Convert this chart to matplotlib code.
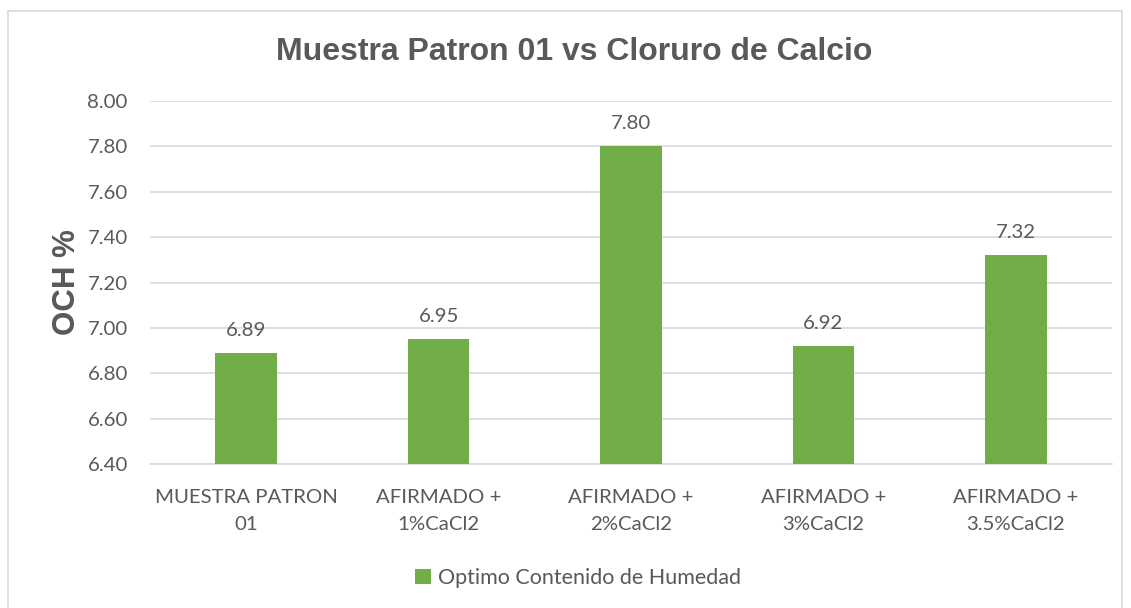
import numpy as np
import matplotlib
matplotlib.use("Agg")
import matplotlib.pyplot as plt
from matplotlib.patches import Rectangle

categories = ["MUESTRA PATRON\n01", "AFIRMADO +\n1%CaCl2", "AFIRMADO +\n2%CaCl2",
              "AFIRMADO +\n3%CaCl2", "AFIRMADO +\n3.5%CaCl2"]
och_values = [6.89, 6.95, 7.80, 6.92, 7.32]
series_name = "Optimo Contenido de Humedad"
yticks = [6.40, 6.60, 6.80, 7.00, 7.20, 7.40, 7.60, 7.80, 8.00]

green = "#70AD47"
text_gray = "#595959"
grid_gray = "#D9D9D9"

fig = plt.figure(figsize=(11.31, 6.08), dpi=100)
W, H = 1131, 608

# outer chart border
fig.patches.append(Rectangle((8 / W, -0.01), (1122 - 8) / W, 1 - 11 / H + 0.01,
                             transform=fig.transFigure, fill=False,
                             edgecolor=grid_gray, linewidth=1.2))

ax = fig.add_axes([150 / W, 1 - 464 / H, (1112 - 150) / W, (464 - 101) / H])
x = np.arange(len(categories))
bars = ax.bar(x, och_values, width=0.32, color=green, label=series_name, zorder=3)

ax.set_ylim(6.40, 8.00)
ax.set_xlim(-0.5, len(categories) - 0.5)
ax.set_yticks(yticks)
ax.set_yticklabels([f"{v:.2f}" for v in yticks])
ax.set_xticks(x)
ax.set_xticklabels(categories)
ax.yaxis.grid(True, color=grid_gray, linewidth=1.2, zorder=0)
for s in ax.spines.values():
    s.set_visible(False)
ax.spines["bottom"].set_visible(True)
ax.spines["bottom"].set_color(grid_gray)
ax.spines["bottom"].set_linewidth(1.2)
ax.tick_params(length=0, labelsize=14.7, labelcolor=text_gray, pad=16)
ax.tick_params(axis="x", pad=18)
for lab in ax.get_xticklabels() + ax.get_yticklabels():
    lab.set_family("Lato")
    lab.set_linespacing(1.75)

for xi, v in zip(x, och_values):
    ax.annotate(f"{v:.2f}", (xi, v), xytext=(0, 10), textcoords="offset points",
                ha="center", va="bottom", fontsize=14.7, color=text_gray, family="Lato")

ax.set_ylabel("OCH %", fontsize=22.5, fontweight="bold", color=text_gray,
              family="Liberation Sans", labelpad=4)

fig.text(0.5 * (276 + 873) / W, 1 - 52 / H, "Muestra Patron 01 vs Cloruro de Calcio",
         ha="center", va="center", fontsize=23, fontweight="bold",
         color=text_gray, family="Liberation Sans")

leg = fig.legend(handles=[bars], labels=[series_name], loc="center",
                 bbox_to_anchor=(578 / W, 1 - 578 / H), frameon=False,
                 prop={"family": "Lato", "size": 15.5}, handlelength=0.75,
                 handleheight=0.75, handletextpad=0.35)
for t in leg.get_texts():
    t.set_color(text_gray)

fig.savefig("out.png", dpi=100)
